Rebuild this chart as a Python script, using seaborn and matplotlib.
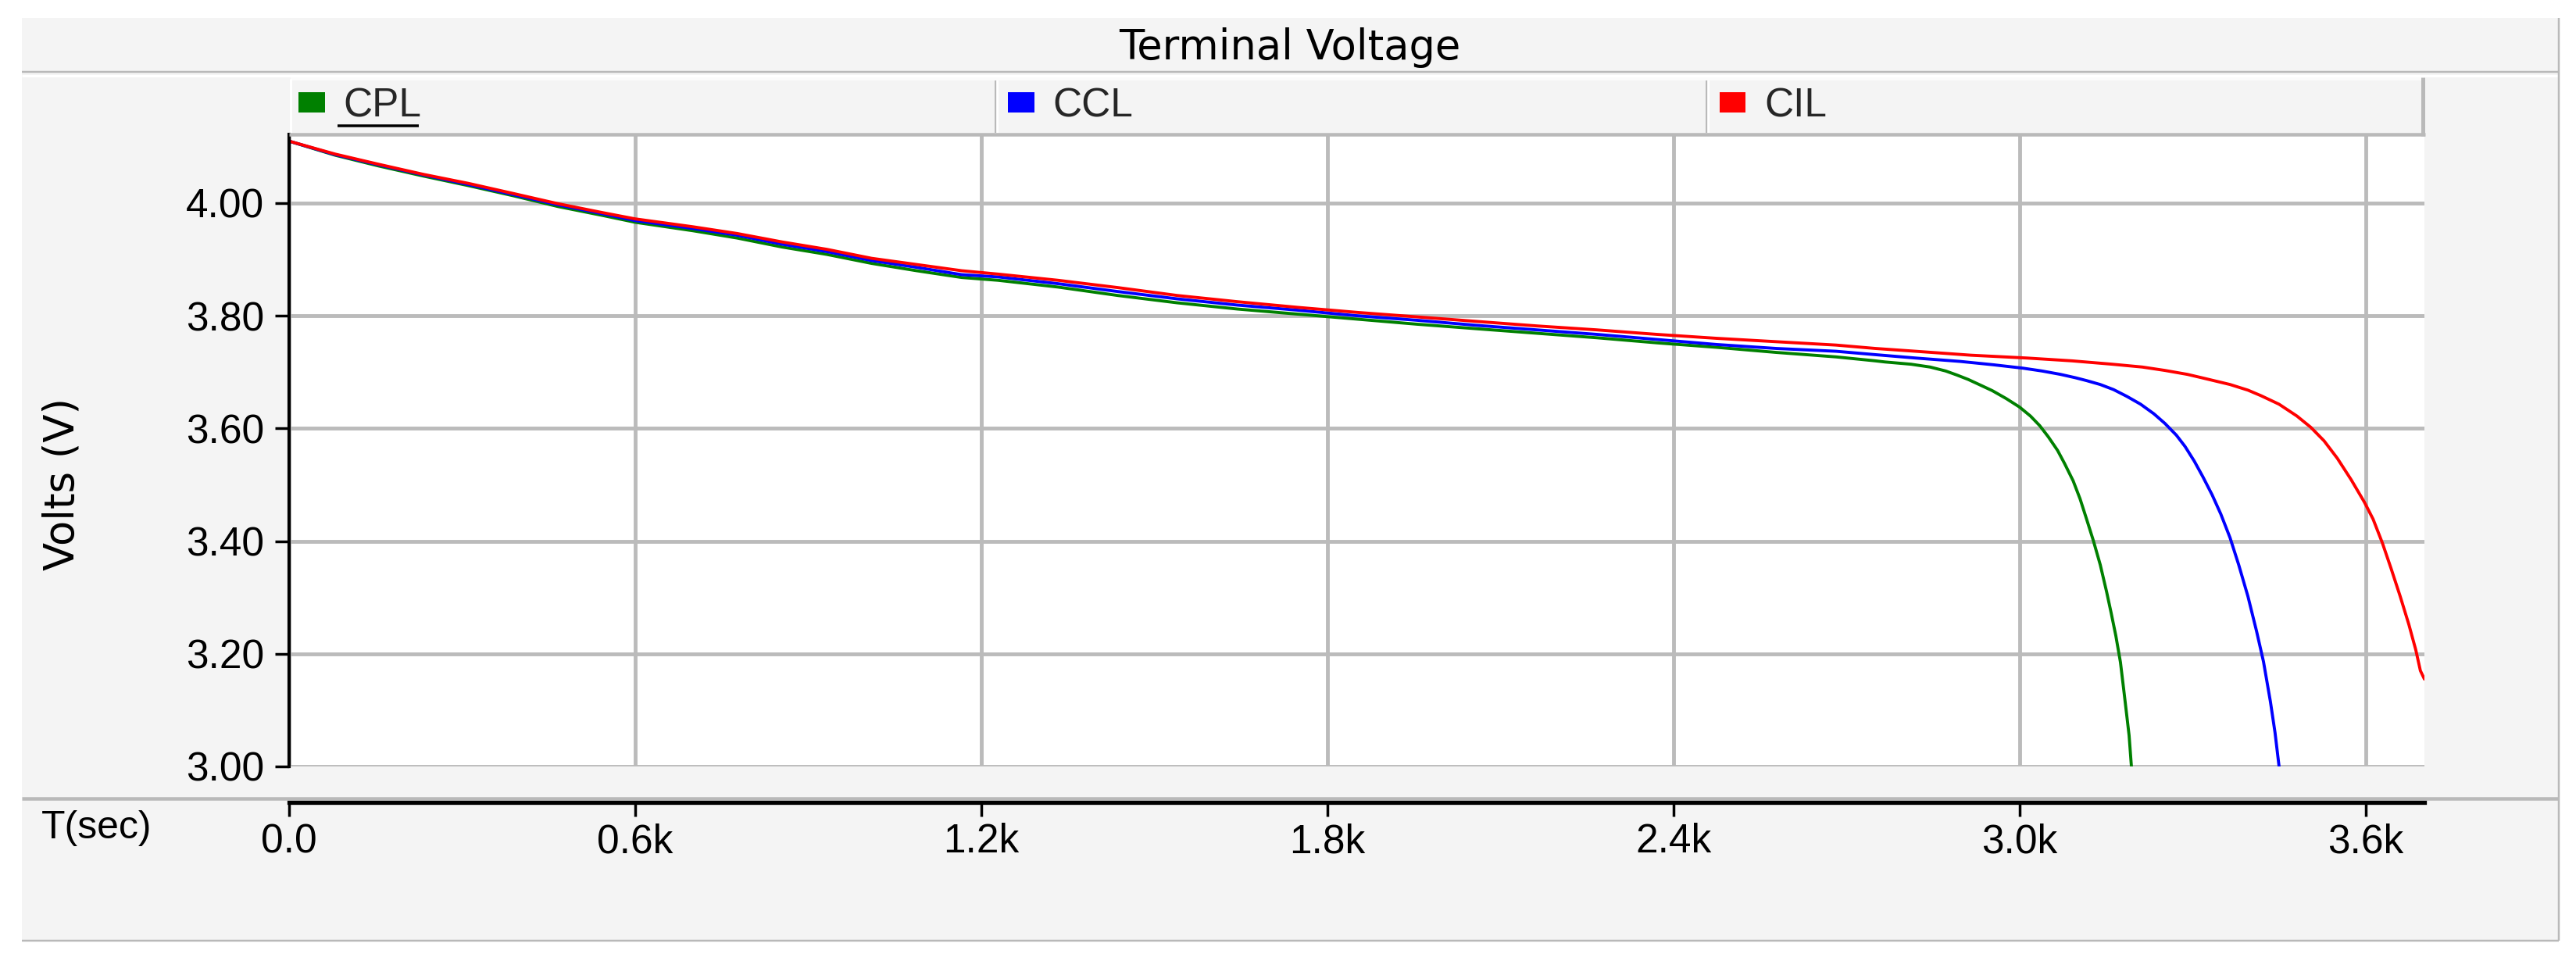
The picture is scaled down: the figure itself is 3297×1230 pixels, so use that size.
import numpy as np
import pandas as pd
import matplotlib
matplotlib.use("Agg")
import matplotlib.pyplot as plt
from matplotlib.patches import Rectangle, Patch
from matplotlib.lines import Line2D
import seaborn as sns

# ---------------- data ----------------
title = "Terminal Voltage"
series_names = ["CPL", "CCL", "CIL"]
series_colors = ["#008000", "#0000ff", "#ff0000"]
y_label = "Volts (V)"
x_label = "T(sec)"
x_tick_values = [0, 600, 1200, 1800, 2400, 3000, 3600]
x_tick_labels = ["0.0", "0.6k", "1.2k", "1.8k", "2.4k", "3.0k", "3.6k"]
y_tick_values = [3.0, 3.2, 3.4, 3.6, 3.8, 4.0]
y_tick_labels = ["3.00", "3.20", "3.40", "3.60", "3.80", "4.00"]

# common early time base (s)
t_early = [0, 80, 155, 233, 311, 389, 466, 544, 600, 700, 777, 855, 932, 1010,
           1088, 1166, 1229, 1333, 1437, 1540, 1644, 1748, 1852, 1956, 2059,
           2163, 2267, 2371, 2475, 2578, 2682, 2750]
cil_early = [4.110, 4.087, 4.069, 4.051, 4.035, 4.017, 3.999, 3.983, 3.972, 3.958,
             3.946, 3.931, 3.918, 3.902, 3.891, 3.880, 3.874, 3.863, 3.850, 3.836,
             3.825, 3.815, 3.806, 3.798, 3.790, 3.782, 3.775, 3.767, 3.760, 3.754,
             3.748, 3.742]
ccl_early = [4.110, 4.086, 4.068, 4.050, 4.033, 4.015, 3.997, 3.981, 3.969, 3.955,
             3.943, 3.927, 3.914, 3.898, 3.886, 3.873, 3.869, 3.857, 3.843, 3.830,
             3.819, 3.810, 3.800, 3.792, 3.783, 3.775, 3.767, 3.758, 3.749, 3.742,
             3.737, 3.731]
cpl_early = [4.110, 4.085, 4.066, 4.048, 4.031, 4.013, 3.994, 3.978, 3.966, 3.951,
             3.938, 3.922, 3.909, 3.893, 3.880, 3.868, 3.863, 3.851, 3.836, 3.823,
             3.812, 3.803, 3.794, 3.785, 3.777, 3.769, 3.761, 3.752, 3.744, 3.735,
             3.727, 3.720]

# knee / collapse parts
cil_t_tail = [2820, 2916, 3013, 3091, 3161, 3213, 3252, 3291, 3316, 3365, 3396, 3419,
              3450, 3481, 3505, 3528, 3551, 3575, 3598, 3613, 3629, 3644, 3660, 3675,
              3687, 3695, 3702]
cil_v_tail = [3.737, 3.730, 3.725, 3.720, 3.714, 3.709, 3.703, 3.696, 3.690, 3.678,
              3.668, 3.658, 3.643, 3.622, 3.602, 3.578, 3.547, 3.509, 3.469, 3.439,
              3.397, 3.352, 3.302, 3.252, 3.207, 3.170, 3.155]
ccl_t_tail = [2820, 2897, 2955, 3006, 3039, 3071, 3097, 3116, 3140, 3163, 3186, 3210,
              3233, 3252, 3272, 3287, 3303, 3318, 3334, 3349, 3365, 3380, 3396, 3411,
              3423, 3435, 3443, 3450]
ccl_v_tail = [3.725, 3.719, 3.713, 3.707, 3.702, 3.696, 3.690, 3.685, 3.678, 3.669,
              3.657, 3.643, 3.626, 3.609, 3.588, 3.568, 3.542, 3.514, 3.482, 3.448,
              3.406, 3.358, 3.302, 3.240, 3.186, 3.115, 3.060, 3.000]
cpl_t_tail = [2767, 2812, 2845, 2872, 2891, 2911, 2930, 2953, 2977, 3000, 3019, 3035,
              3050, 3066, 3078, 3093, 3105, 3116, 3128, 3140, 3151, 3159, 3167, 3175,
              3182, 3190, 3194]
cpl_v_tail = [3.718, 3.714, 3.709, 3.702, 3.695, 3.687, 3.678, 3.667, 3.653, 3.638,
              3.622, 3.605, 3.585, 3.561, 3.538, 3.507, 3.475, 3.440, 3.401, 3.358,
              3.310, 3.272, 3.232, 3.185, 3.125, 3.055, 3.000]

frames = []
for name, ve, tt, vt in [("CPL", cpl_early, cpl_t_tail, cpl_v_tail),
                         ("CCL", ccl_early, ccl_t_tail, ccl_v_tail),
                         ("CIL", cil_early, cil_t_tail, cil_v_tail)]:
    frames.append(pd.DataFrame({"t": list(t_early) + list(tt),
                                "V": list(ve) + list(vt),
                                "series": name}))
df = pd.concat(frames, ignore_index=True)

# ---------------- style ----------------
sns.set_style("white")
plt.rcParams["font.family"] = ["Liberation Sans", "DejaVu Sans"]

W, H = 3298, 1230
fig = plt.figure(figsize=(W / 100, H / 100), dpi=100)
fig.patch.set_facecolor("white")


def fx(px):
    return px / W


def fy(py):
    return 1 - py / H


def fline(xs, ys, color, lw_px, z=-5):
    fig.add_artist(Line2D([fx(x) for x in xs], [fy(y) for y in ys],
                          transform=fig.transFigure, color=color,
                          lw=lw_px * 0.72, zorder=z, solid_capstyle="butt"))


GRAY = "#b9b9b9"
PANEL = "#f4f4f4"

# outer panel
fig.add_artist(Rectangle((fx(28), fy(1204)), (3275 - 28) / W, (1204 - 23) / H,
                         transform=fig.transFigure, facecolor=PANEL,
                         edgecolor="none", zorder=-10))
# title band separator
fline([28, 3275], [92, 92], GRAY, 2.5)
fline([28, 3275], [97, 97], "white", 3)
# bottom separator between plot and time axis
fline([28, 3275], [1022, 1022], GRAY, 4.5)
# outer frame bottom / right
fline([28, 3275], [1204, 1204], GRAY, 2.5)
fline([3275, 3275], [23, 1204], GRAY, 2.5)
# legend band decorations
fline([372, 3103], [101, 101], "#fbfbfb", 4)
fline([372, 372], [101, 172], "white", 3)
fline([1274, 1274], [103, 170], GRAY, 2)
fline([1277, 1277], [103, 170], "white", 2)
fline([2184, 2184], [103, 170], GRAY, 2)
fline([2187, 2187], [103, 170], "white", 2)
fline([3101, 3101], [99, 174], GRAY, 5, z=5)
fline([370, 3104], [172, 172], GRAY, 4.5, z=5)

# ---------------- axes ----------------
ax = fig.add_axes([fx(370), fy(981), (3103 - 370) / W, (981 - 172) / H])
ax.set_facecolor("white")

sns.lineplot(data=df, x="t", y="V", hue="series", hue_order=series_names,
             palette=dict(zip(series_names, series_colors)), estimator=None,
             sort=False, legend=False, lw=2.8, ax=ax)

ax.set_xlim(0, 3702)
ax.set_ylim(3.0, 4.122)
ax.set_xticks(x_tick_values, x_tick_labels)
ax.set_yticks(y_tick_values, y_tick_labels)
ax.grid(True, color="#bbbbbb", lw=3.5)
ax.set_axisbelow(True)

for s in ["top", "right"]:
    ax.spines[s].set_visible(False)
ax.spines["left"].set_color("black")
ax.spines["left"].set_linewidth(3)
ax.spines["bottom"].set_color("black")
ax.spines["bottom"].set_linewidth(3.8)
ax.spines["bottom"].set_position(("outward", 46 * 0.72))

ax.tick_params(axis="both", direction="out", length=13, width=2.5,
               color="black", labelsize=37, labelcolor="black",
               bottom=True, left=True)
ax.tick_params(axis="x", pad=6)
ax.tick_params(axis="y", pad=10)

ax.set_ylabel(y_label, fontsize=38, family=["DejaVu Sans"], color="black")
ax.yaxis.set_label_coords((80 - 370) / 2733, (981 - 620) / 809)
ax.yaxis.label.set_va("center")

ax.set_xlabel(x_label, fontsize=36, color="black")
ax.xaxis.set_label_coords((53 - 370) / 2733, (981 - 1073) / 809)
ax.xaxis.label.set_ha("left")
ax.xaxis.label.set_va("baseline")

fig.text(fx(1651), fy(76), title, ha="center", va="baseline", fontsize=38,
         family=["DejaVu Sans"], color="black")

handles = [Patch(facecolor=c, edgecolor="none", label=n)
           for n, c in zip(series_names, series_colors)]
fig.legend(handles=handles, loc="center left", bbox_to_anchor=(fx(382), fy(136)),
           ncol=3, frameon=False, fontsize=37, handlelength=0.66, handleheight=0.41,
           handletextpad=0.46, columnspacing=14.6, borderpad=0, borderaxespad=0)
# focus underline below first legend entry
fline([432, 536], [161, 161], "black", 3.5, z=6)

fig.savefig("out.png", dpi=100)
